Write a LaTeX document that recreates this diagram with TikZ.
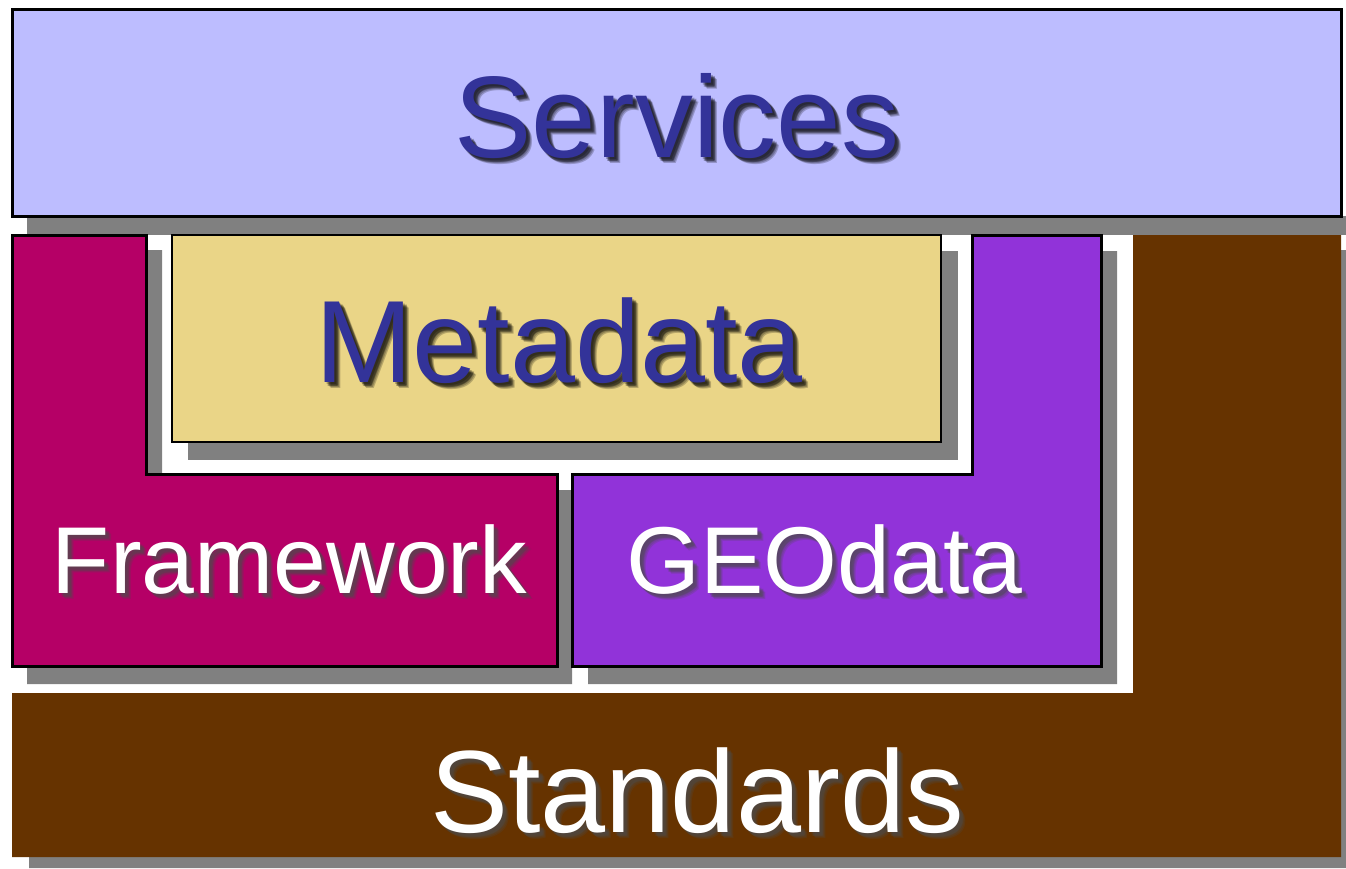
\documentclass[tikz,border=0pt]{standalone}
\usepackage{fontspec}
\setmainfont{Liberation Sans}

\definecolor{svc}{RGB}{189,189,255}
\definecolor{meta}{RGB}{234,213,135}
\definecolor{frame}{RGB}{181,0,102}
\definecolor{geo}{RGB}{145,51,217}
\definecolor{std}{RGB}{102,51,0}
\definecolor{shade}{RGB}{128,128,128}
\definecolor{ink}{RGB}{51,51,153}

\tikzset{
  layer/.style={draw=black, line width=3pt, line join=miter},
  drop/.style={fill=shade},
  caption/.style={inner sep=0pt, anchor=base},
}

% name, x, baseline y, size, text colour, shadow colour, text
\newcommand\softlabel[7]{%
  \foreach \dx/\dy in {2/2,3/4,4/3,4/4,5/5,6/6} {
    \node[caption, text=#6, text opacity=0.22, font=\fontsize{#4}{#4}\selectfont]
      at (#2+\dx, #3+\dy) {#7};
  }
  \node[caption, text=#5, font=\fontsize{#4}{#4}\selectfont] (#1) at (#2,#3) {#7};
}

\begin{document}
\begin{tikzpicture}[x=1pt, y=-1pt]
  \useasboundingbox (0,0) rectangle (1346,868);

  % Services bar
  \fill[drop] (27,216) rectangle (1346,235);
  \draw[layer, fill=svc] (12,9) rectangle (1341,216);

  % Standards: L-shaped base
  \fill[drop] (1149,250) -- (1346,250) -- (1346,868) -- (29,868) -- (29,709) -- (1149,709) -- cycle;
  \fill[std] (1133,235) -- (1341,235) -- (1341,857) -- (12,857) -- (12,693) -- (1133,693) -- cycle;

  % Framework
  \fill[drop] (27,250) -- (162,250) -- (162,490) -- (572,490) -- (572,684) -- (27,684) -- cycle;
  \draw[layer, fill=frame] (12,235) -- (146,235) -- (146,474) -- (557,474) -- (557,666) -- (12,666) -- cycle;

  % GEOdata
  \fill[drop] (988,251) -- (1117,251) -- (1117,684) -- (588,684) -- (588,490) -- (988,490) -- cycle;
  \draw[layer, fill=geo] (972,235) -- (1101,235) -- (1101,666) -- (572,666) -- (572,474) -- (972,474) -- cycle;

  % Metadata
  \fill[drop] (188,251) rectangle (958,460);
  \draw[draw=black, line width=2.5pt, fill=meta] (172,235) rectangle (941,442);

  % Labels
  \softlabel{services}{677}{157}{116}{ink}{black}{Services}
  \softlabel{metadata}{559}{382}{117}{ink}{black}{Metadata}
  \softlabel{framework}{289.5}{593}{95}{white}{black!70}{Framework}
  \softlabel{geodata}{824.5}{593}{95}{white}{black!70}{GEOdata}
  \softlabel{standards}{697}{832}{117}{white}{black!70}{Standards}
\end{tikzpicture}
\end{document}
